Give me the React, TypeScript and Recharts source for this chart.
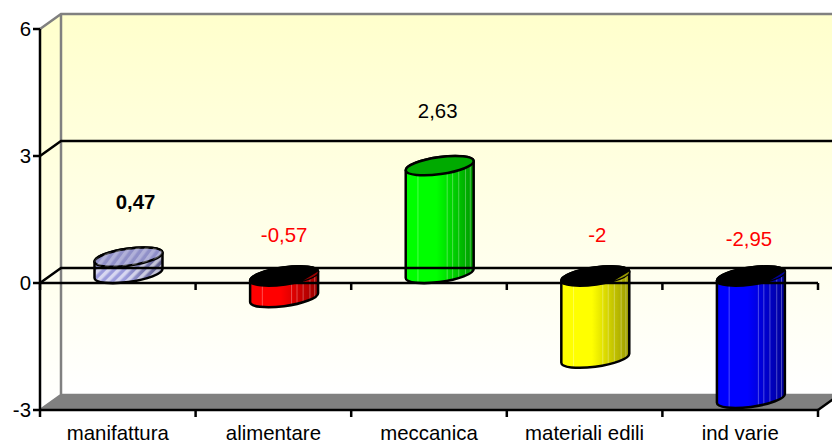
import { Bar, BarChart, LabelList, ReferenceArea, ReferenceLine, XAxis, YAxis } from "recharts";

const categories = ["manifattura", "alimentare", "meccanica", "materiali edili", "ind varie"];
const values = [0.47, -0.57, 2.63, -2, -2.95];
const yTicks = [-3, 0, 3, 6];

const rows = categories.map((name, i) => ({ name, value: values[i] }));

// bar skins, one per category
const skins = [
  { light: "#9C9CDC", dark: "#5C5C88", cap: "#9090C8", striped: true },
  { light: "#FF0000", dark: "#990000", cap: "#000000", striped: false },
  { light: "#00FF00", dark: "#009900", cap: "#00AA00", striped: false },
  { light: "#FFFF00", dark: "#999900", cap: "#000000", striped: false },
  { light: "#0000FF", dark: "#000099", cap: "#000000", striped: false },
];

// hand placement of the value labels
const labelShift = [
  { dx: 7, dy: 0 },
  { dx: 0, dy: 0 },
  { dx: -2, dy: 0 },
  { dx: 2, dy: 0 },
  { dx: -2, dy: 4 },
];

const FONT = "'Liberation Sans', Arial, sans-serif";
const FONT_SIZE = 20.4;
const DEPTH_X = 21;
const DEPTH_Y = -15;
const GRAY = "#808080";
const TILT = -8;
const RX = 34.3;
const RY = 8.5;
const INK = 2.5;

// light seams on the cylinder body, as fractions of its width
const seams = [0.18, 0.61, 0.69, 0.78, 0.88, 0.95];

function Frame({ x, y, width, height }: any) {
  const bottom = y + height;
  const right = x + width;
  const step = width / categories.length;
  return (
    <g>
      <defs>
        <linearGradient id="wall" x1="0" y1="0" x2="0" y2="1">
          <stop offset="0" stopColor="#FFFFCC" />
          <stop offset="1" stopColor="#FFFFFF" />
        </linearGradient>
      </defs>
      <polygon
        points={`${x},${y} ${x + DEPTH_X},${y + DEPTH_Y} ${x + DEPTH_X},${bottom + DEPTH_Y} ${x},${bottom}`}
        fill="url(#wall)"
      />
      <rect x={x + DEPTH_X} y={y + DEPTH_Y} width={width} height={height} fill="url(#wall)" />
      <polygon
        points={`${x},${bottom} ${x + DEPTH_X},${bottom + DEPTH_Y} ${right + DEPTH_X},${bottom + DEPTH_Y} ${right},${bottom}`}
        fill={GRAY}
      />
      <path
        d={`M${x},${y} L${x + DEPTH_X},${y + DEPTH_Y} H${right + DEPTH_X} M${x + DEPTH_X},${y + DEPTH_Y} V${bottom + DEPTH_Y} L${x},${bottom} M${x + DEPTH_X},${bottom + DEPTH_Y} H${right + DEPTH_X}`}
        stroke={GRAY}
        strokeWidth={INK}
        fill="none"
      />
      <line x1={right} y1={bottom} x2={right + DEPTH_X} y2={bottom + DEPTH_Y} stroke="#000" strokeWidth={INK} />
      {categories.concat("").map((_, i) => (
        <line key={i} x1={x + step * i} x2={x + step * i} y1={bottom} y2={bottom + 7} stroke="#000" strokeWidth={INK} />
      ))}
    </g>
  );
}

// gridline on the back wall, joined to the axis by a slanted stroke
function BackLine({ x1, y1, x2 }: any) {
  return (
    <path
      d={`M${x1},${y1} L${x1 + DEPTH_X},${y1 + DEPTH_Y} H${x2 + DEPTH_X}`}
      stroke="#000"
      strokeWidth={INK}
      fill="none"
    />
  );
}

function ZeroLine(props: any) {
  const { x1, y1, x2 } = props;
  const step = (x2 - x1) / categories.length;
  return (
    <g>
      <BackLine {...props} />
      <line x1={x1} x2={x2} y1={y1} y2={y1} stroke="#000" strokeWidth={INK} />
      {categories.concat("").map((_, i) => (
        <line key={i} x1={x1 + step * i} x2={x1 + step * i} y1={y1} y2={y1 + 7} stroke="#000" strokeWidth={INK} />
      ))}
    </g>
  );
}

function Cylinder({ x, y, width, height, index }: any) {
  const skin = skins[index];
  const rising = values[index] >= 0;
  const rad = (TILT * Math.PI) / 180;
  const cx = x + width / 2 + DEPTH_X / 2;
  const top = Math.min(y, y + height) - (rising ? 6 : 7);
  const base = Math.max(y, y + height) - 9.5;

  // point of the tilted ellipse that sits on the silhouette
  const t = Math.atan2(-RY * Math.sin(rad), RX * Math.cos(rad));
  const ex = RX * Math.cos(t) * Math.cos(rad) - RY * Math.sin(t) * Math.sin(rad);
  const ey = RX * Math.cos(t) * Math.sin(rad) + RY * Math.sin(t) * Math.cos(rad);

  const arc = `A${RX},${RY} ${TILT} 0 0`;
  const body = `M${cx - ex},${top - ey} V${base - ey} ${arc} ${cx + ex},${base + ey} V${top + ey} ${arc} ${cx - ex},${top - ey} Z`;
  const gradId = `body-${index}`;
  const clipId = `clip-${index}`;

  // wedge of body colour that shows through the black cap of falling bars
  const wt = 1.0;
  const wx = RX * Math.cos(wt) * Math.cos(rad) - RY * Math.sin(wt) * Math.sin(rad);
  const wy = RX * Math.cos(wt) * Math.sin(rad) + RY * Math.sin(wt) * Math.cos(rad);

  return (
    <g>
      <defs>
        <linearGradient id={gradId} x1="0" y1="0" x2="1" y2="0">
          <stop offset="0" stopColor={skin.light} />
          <stop offset="0.45" stopColor={skin.light} />
          <stop offset="1" stopColor={skin.dark} />
        </linearGradient>
        <clipPath id={clipId}>
          <path d={body} />
        </clipPath>
        {skin.striped && (
          <pattern id="stripes" width="7" height="7" patternUnits="userSpaceOnUse" patternTransform="rotate(45)">
            <rect width="3.5" height="7" fill="#FFFFFF" fillOpacity={0.6} />
          </pattern>
        )}
      </defs>
      <path d={body} fill={`url(#${gradId})`} />
      {skin.striped && <path d={body} fill="url(#stripes)" />}
      {!skin.striped && (
        <g clipPath={`url(#${clipId})`}>
          {seams.map((s) => (
            <line
              key={s}
              x1={cx - ex + 2 * ex * s}
              x2={cx - ex + 2 * ex * s}
              y1={top - RY - 4}
              y2={base + RY + 4}
              stroke="#FFFFFF"
              strokeOpacity={0.3}
            />
          ))}
        </g>
      )}
      <path d={body} fill="none" stroke="#000" strokeWidth={INK} />
      <ellipse
        cx={cx}
        cy={top}
        rx={RX}
        ry={RY}
        transform={`rotate(${TILT} ${cx} ${top})`}
        fill={skin.cap}
        stroke="#000"
        strokeWidth={INK}
      />
      {skin.striped && (
        <ellipse cx={cx} cy={top} rx={RX} ry={RY} transform={`rotate(${TILT} ${cx} ${top})`} fill="url(#stripes)" fillOpacity={0.5} />
      )}
      {!rising && (
        <path d={`M${cx + wx},${top + wy} ${arc} ${cx + ex},${top + ey} Z`} fill={skin.dark} />
      )}
    </g>
  );
}

function ValueLabel({ x, y, width, height, value, index }: any) {
  const shift = labelShift[index];
  const rising = value >= 0;
  const anchorY = Math.min(y, y + height) + (rising ? -61 : -48) + shift.dy;
  return (
    <text
      x={x + width / 2 + DEPTH_X / 2 + shift.dx}
      y={anchorY}
      textAnchor="middle"
      dominantBaseline="central"
      fontFamily={FONT}
      fontSize={FONT_SIZE}
      fontWeight={index === 0 ? "bold" : "normal"}
      fill={rising ? "#000" : "#FF0000"}
    >
      {String(value).replace(".", ",")}
    </text>
  );
}

function CategoryTick({ x, y, payload }: any) {
  return (
    <text x={x} y={y + 22} textAnchor="middle" fontFamily={FONT} fontSize={FONT_SIZE} fill="#000">
      {payload.value}
    </text>
  );
}

export default function App() {
  return (
    <div style={{ position: "absolute", left: 0, top: 0 }}>
      <BarChart
        width={832}
        height={446}
        data={rows}
        barSize={68}
        margin={{ top: 29, right: 14, bottom: 0, left: 0 }}
      >
        <XAxis
          dataKey="name"
          height={36}
          interval={0}
          tickLine={false}
          axisLine={{ stroke: "#000", strokeWidth: INK }}
          tick={<CategoryTick />}
        />
        <YAxis
          width={40}
          domain={[-3, 6]}
          ticks={yTicks}
          interval={0}
          tickSize={7}
          tickMargin={2}
          axisLine={{ stroke: "#000", strokeWidth: INK }}
          tickLine={{ stroke: "#000", strokeWidth: INK }}
          tick={{ fontFamily: FONT, fontSize: FONT_SIZE, fill: "#000" }}
        />
        <ReferenceArea y1={-3} y2={6} shape={<Frame />} />
        <ReferenceLine y={3} shape={<BackLine />} />
        <ReferenceLine y={0} shape={<ZeroLine />} />
        <Bar dataKey="value" isAnimationActive={false} shape={<Cylinder />}>
          <LabelList dataKey="value" content={<ValueLabel />} />
        </Bar>
      </BarChart>
    </div>
  );
}
